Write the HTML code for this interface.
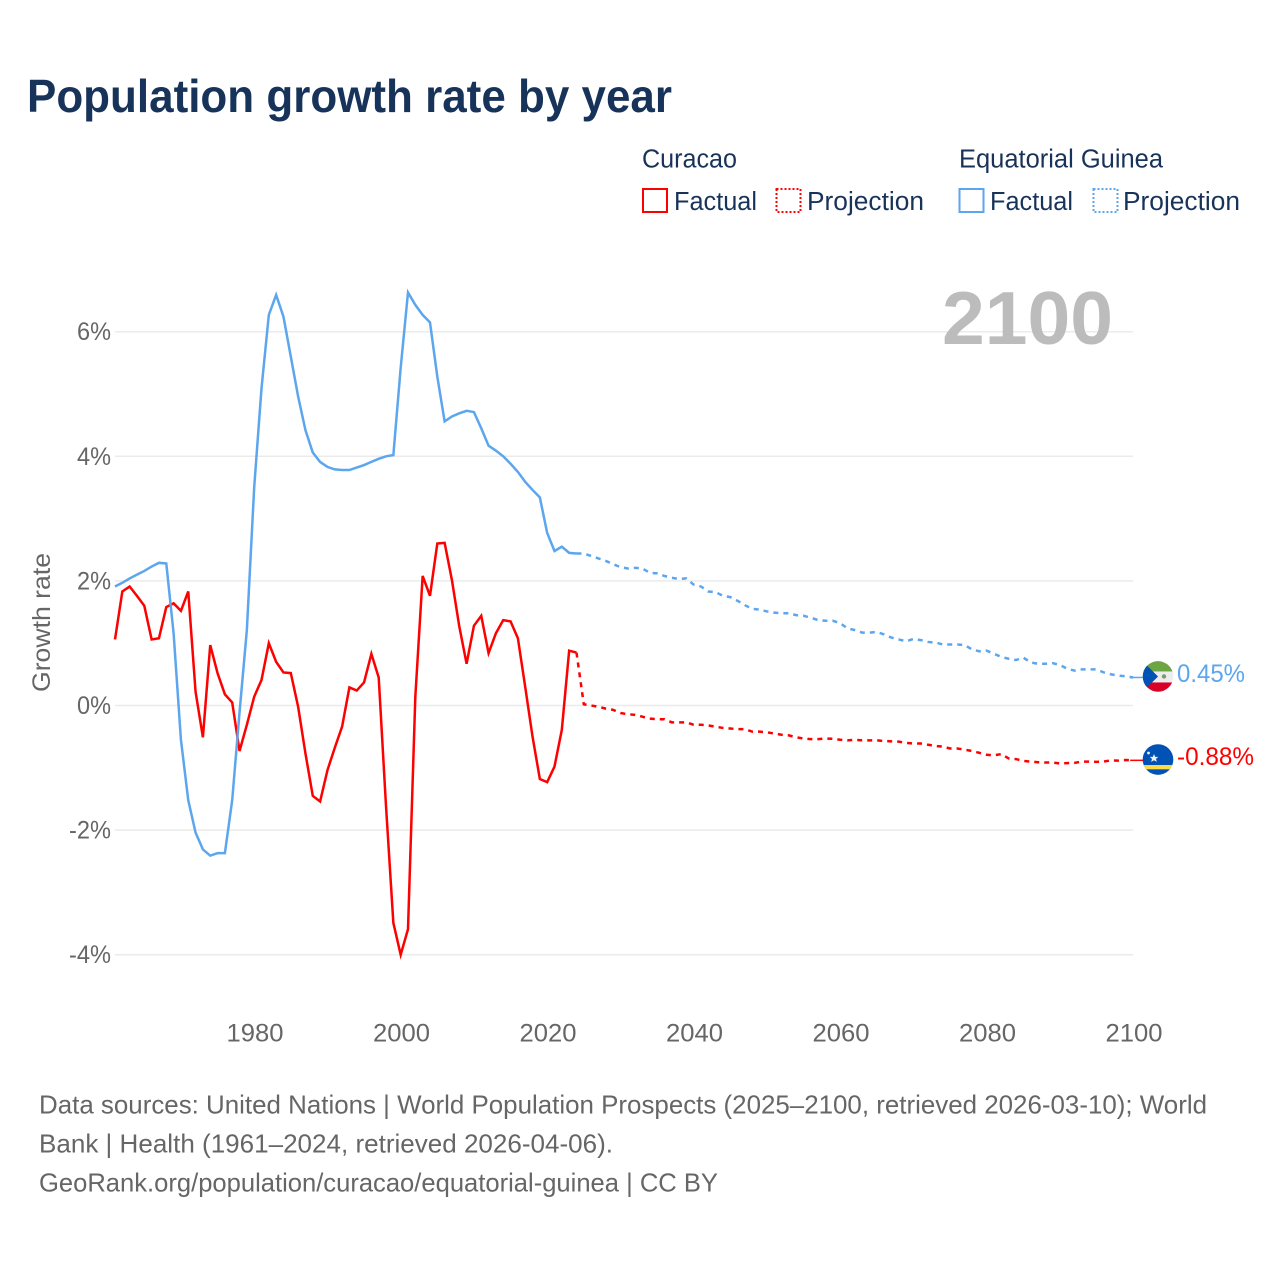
<!DOCTYPE html>
<html lang="en">
<head>
<meta charset="utf-8">
<title>Population growth rate by year</title>
<style>
html,body{margin:0;padding:0;background:#fff;}
svg{display:block;font-family:"Liberation Sans",sans-serif;}
</style>
</head>
<body>
<svg id="chart" xmlns="http://www.w3.org/2000/svg" width="1280" height="1280" viewBox="0 0 1280 1280">
  <defs>
    <clipPath id="clip-eq"><circle cx="0" cy="0" r="15.3"/></clipPath>
    <clipPath id="clip-cw"><circle cx="0" cy="0" r="15.3"/></clipPath>
  </defs>
  <rect width="1280" height="1280" fill="#fff"/>
  <text x="27" y="112" font-size="46.5" font-weight="700" fill="#18335a" textLength="645" lengthAdjust="spacingAndGlyphs">Population growth rate by year</text>

  <g font-size="25.5" fill="#18335a">
    <text x="642" y="167.5" textLength="95" lengthAdjust="spacingAndGlyphs">Curacao</text>
    <text x="959" y="167.5" textLength="204" lengthAdjust="spacingAndGlyphs">Equatorial Guinea</text>
    <rect x="643" y="189" width="24" height="23" fill="none" stroke="#ff0000" stroke-width="2"/>
    <text x="674" y="210" textLength="83" lengthAdjust="spacingAndGlyphs">Factual</text>
    <rect x="776.5" y="189" width="24" height="23" fill="none" stroke="#ff0000" stroke-width="2" stroke-dasharray="2 2"/>
    <text x="807" y="210" textLength="117" lengthAdjust="spacingAndGlyphs">Projection</text>
    <rect x="959.5" y="189" width="24" height="23" fill="none" stroke="#5ca6ee" stroke-width="2"/>
    <text x="990" y="210" textLength="83" lengthAdjust="spacingAndGlyphs">Factual</text>
    <rect x="1093.5" y="189" width="24" height="23" fill="none" stroke="#5ca6ee" stroke-width="2" stroke-dasharray="2 2"/>
    <text x="1123" y="210" textLength="117" lengthAdjust="spacingAndGlyphs">Projection</text>
  </g>

  <g id="grid"></g>
  <text x="942" y="344" font-size="75" font-weight="700" fill="#bcbcbc" textLength="171" lengthAdjust="spacingAndGlyphs">2100</text>
  <g id="yticks" font-size="25" fill="#666"></g>
  <g id="xticks" font-size="25" fill="#666"></g>
  <text transform="translate(50,692) rotate(-90)" font-size="25" fill="#666" textLength="139" lengthAdjust="spacingAndGlyphs">Growth rate</text>
  <g id="series"></g>

  <g id="flag-eq">
    <g clip-path="url(#clip-eq)">
      <rect x="-16" y="-16" width="32" height="32" fill="#ededed"/>
      <rect x="-16" y="-16" width="32" height="11" fill="#6da544"/>
      <rect x="-16" y="6" width="32" height="10" fill="#d80027"/>
      <polygon points="-16,-16 0,0 -16,16" fill="#0052b4"/>
      <circle cx="6" cy="0" r="2.2" fill="#7f9a6c"/>
    </g>
  </g>
  <g id="flag-cw">
    <g clip-path="url(#clip-cw)">
      <rect x="-16" y="-16" width="32" height="32" fill="#0052b4"/>
      <rect x="-16" y="5.5" width="32" height="4.3" fill="#ffda44"/>
      <polygon points="-4,-5.5 -2.8,-2.6 0.3,-2.6 -2,-0.7 -1.2,2.3 -4,0.7 -6.8,2.3 -6,-0.7 -8.3,-2.6 -5.2,-2.6" fill="#f0f0f0"/>
      <circle cx="-9.5" cy="-6.5" r="1.4" fill="#f0f0f0"/>
    </g>
  </g>
  <text id="label-eq" x="1177" y="682" font-size="25" fill="#5ca6ee" textLength="68" lengthAdjust="spacingAndGlyphs"></text>
  <text id="label-cw" x="1177" y="765" font-size="25" fill="#ff0000" textLength="77" lengthAdjust="spacingAndGlyphs"></text>

  <g font-size="26" fill="#666">
    <text x="39" y="1113.5" textLength="1168" lengthAdjust="spacingAndGlyphs">Data sources: United Nations | World Population Prospects (2025–2100, retrieved 2026-03-10); World</text>
    <text x="39" y="1152.5" textLength="574" lengthAdjust="spacingAndGlyphs">Bank | Health (1961–2024, retrieved 2026-04-06).</text>
    <text x="39" y="1191.5" textLength="679" lengthAdjust="spacingAndGlyphs">GeoRank.org/population/curacao/equatorial-guinea | CC BY</text>
  </g>
</svg>
<script>
const yTicks = [6, 4, 2, 0, -2, -4];
const xTicks = [1980, 2000, 2020, 2040, 2060, 2080, 2100];
const factualStartYear = 1961;
const projectionStartYear = 2024;

const curacaoFactual = [1.06,1.83,1.91,1.76,1.60,1.06,1.08,1.58,1.64,1.52,1.83,0.22,-0.51,0.97,0.52,0.18,0.05,-0.73,-0.31,0.14,0.41,1.00,0.70,0.53,0.52,-0.02,-0.77,-1.45,-1.54,-1.04,-0.68,-0.34,0.29,0.24,0.37,0.83,0.45,-1.62,-3.49,-4.00,-3.59,0.14,2.08,1.76,2.60,2.61,2.01,1.27,0.67,1.28,1.44,0.84,1.16,1.37,1.35,1.08,0.30,-0.50,-1.18,-1.23,-0.98,-0.39,0.88,0.85];
const curacaoProjection = [0.85,0.02,0.00,-0.02,-0.05,-0.07,-0.12,-0.14,-0.15,-0.18,-0.21,-0.22,-0.22,-0.27,-0.27,-0.27,-0.31,-0.31,-0.32,-0.34,-0.36,-0.37,-0.38,-0.38,-0.42,-0.42,-0.43,-0.45,-0.47,-0.48,-0.51,-0.53,-0.54,-0.54,-0.53,-0.535,-0.55,-0.56,-0.55,-0.56,-0.56,-0.56,-0.57,-0.575,-0.58,-0.60,-0.61,-0.61,-0.63,-0.65,-0.66,-0.69,-0.69,-0.71,-0.73,-0.76,-0.79,-0.80,-0.78,-0.85,-0.86,-0.89,-0.90,-0.91,-0.915,-0.915,-0.93,-0.925,-0.92,-0.90,-0.90,-0.905,-0.90,-0.88,-0.885,-0.875,-0.88];
const guineaFactual = [1.91,1.97,2.04,2.10,2.16,2.23,2.29,2.28,1.16,-0.55,-1.52,-2.04,-2.31,-2.41,-2.37,-2.37,-1.52,-0.11,1.21,3.50,5.09,6.27,6.59,6.24,5.60,4.96,4.42,4.06,3.91,3.83,3.79,3.78,3.78,3.82,3.86,3.91,3.96,4.00,4.02,5.42,6.63,6.43,6.27,6.15,5.28,4.56,4.64,4.69,4.73,4.71,4.45,4.17,4.09,4.00,3.88,3.75,3.59,3.46,3.34,2.77,2.48,2.55,2.45,2.44];
const guineaProjection = [2.44,2.44,2.40,2.36,2.32,2.27,2.22,2.20,2.21,2.20,2.13,2.12,2.08,2.05,2.03,2.04,1.94,1.91,1.83,1.82,1.76,1.74,1.68,1.61,1.55,1.54,1.51,1.49,1.48,1.48,1.45,1.44,1.41,1.37,1.36,1.36,1.32,1.24,1.21,1.17,1.17,1.18,1.14,1.09,1.06,1.03,1.07,1.05,1.02,1.01,0.98,0.98,0.98,0.97,0.90,0.87,0.88,0.83,0.78,0.75,0.73,0.77,0.69,0.67,0.67,0.68,0.65,0.59,0.56,0.58,0.58,0.58,0.53,0.50,0.48,0.47,0.45];

const NS = 'http://www.w3.org/2000/svg';
const RED = '#ff0000';
const BLUE = '#5ca6ee';
const xScale = function (year) { return 115 + (year - 1961) * 7.325; };
const yScale = function (value) { return 705.5 - value * 62.3; };
const formatPct = function (value) { return value + '%'; };

const grid = document.getElementById('grid');
const yTickGroup = document.getElementById('yticks');
const xTickGroup = document.getElementById('xticks');
const seriesGroup = document.getElementById('series');

yTicks.forEach(function (tick) {
  const line = document.createElementNS(NS, 'line');
  
  
  line.setAttribute('x1', 115);
  line.setAttribute('x2', 1133);
  line.setAttribute('y1', yScale(tick));
  line.setAttribute('y2', yScale(tick));
  line.setAttribute('stroke', '#ebebeb');
  line.setAttribute('stroke-width', '1.5');
  grid.appendChild(line);

  const label = document.createElementNS(NS, 'text');
  
  
  const labelWidth = tick < 0 ? 42 : 34;
  label.setAttribute('x', 111 - labelWidth);
  label.setAttribute('y', yScale(tick) + 8.5);
  label.setAttribute('textLength', labelWidth);
  label.setAttribute('lengthAdjust', 'spacingAndGlyphs');
  label.textContent = formatPct(tick);
  yTickGroup.appendChild(label);
});

xTicks.forEach(function (tick) {
  const label = document.createElementNS(NS, 'text');
  
  
  label.setAttribute('x', xScale(tick) - 27.7);
  label.setAttribute('y', 1041.5);
  label.setAttribute('textLength', '57');
  label.setAttribute('lengthAdjust', 'spacingAndGlyphs');
  label.textContent = String(tick);
  xTickGroup.appendChild(label);
});

function buildPath(values, startYear) {
  return values.map(function (value, i) {
    return (i === 0 ? 'M' : 'L') + xScale(startYear + i).toFixed(2) + ' ' + yScale(value).toFixed(2);
  }).join(' ');
}

function styleLine(path, color, dashed) {
  path.setAttribute('fill', 'none');
  path.setAttribute('stroke', color);
  path.setAttribute('stroke-width', '2.5');
  path.setAttribute('stroke-linejoin', 'miter');
  if (dashed) {
    path.setAttribute('stroke-dasharray', '5 5');
  }
}

const curacaoProjectionLine = document.createElementNS(NS, 'path');


curacaoProjectionLine.setAttribute('d', buildPath(curacaoProjection, projectionStartYear));
styleLine(curacaoProjectionLine, RED, true);
seriesGroup.appendChild(curacaoProjectionLine);

const curacaoFactualLine = document.createElementNS(NS, 'path');


curacaoFactualLine.setAttribute('d', buildPath(curacaoFactual, factualStartYear));
styleLine(curacaoFactualLine, RED, false);
seriesGroup.appendChild(curacaoFactualLine);

const guineaProjectionLine = document.createElementNS(NS, 'path');


guineaProjectionLine.setAttribute('d', buildPath(guineaProjection, projectionStartYear));
styleLine(guineaProjectionLine, BLUE, true);
seriesGroup.appendChild(guineaProjectionLine);

const guineaFactualLine = document.createElementNS(NS, 'path');


guineaFactualLine.setAttribute('d', buildPath(guineaFactual, factualStartYear));
styleLine(guineaFactualLine, BLUE, false);
seriesGroup.appendChild(guineaFactualLine);

const lastCuracao = curacaoProjection[curacaoProjection.length - 1];
const lastGuinea = guineaProjection[guineaProjection.length - 1];

const guineaConnector = document.createElementNS(NS, 'line');


guineaConnector.setAttribute('x1', xScale(2100) - 3);
guineaConnector.setAttribute('x2', 1143);
guineaConnector.setAttribute('y1', yScale(lastGuinea));
guineaConnector.setAttribute('y2', yScale(lastGuinea));
guineaConnector.setAttribute('stroke', BLUE);
guineaConnector.setAttribute('stroke-width', '1.5');
seriesGroup.appendChild(guineaConnector);

const curacaoConnector = document.createElementNS(NS, 'line');


curacaoConnector.setAttribute('x1', xScale(2100) - 3);
curacaoConnector.setAttribute('x2', 1143);
curacaoConnector.setAttribute('y1', yScale(lastCuracao));
curacaoConnector.setAttribute('y2', yScale(lastCuracao));
curacaoConnector.setAttribute('stroke', RED);
curacaoConnector.setAttribute('stroke-width', '1.5');
seriesGroup.appendChild(curacaoConnector);

document.getElementById('flag-eq').setAttribute('transform', 'translate(1158,' + (yScale(lastGuinea) - 1) + ')');
document.getElementById('flag-cw').setAttribute('transform', 'translate(1158,' + (yScale(lastCuracao) - 0.8) + ')');

const labelEq = document.getElementById('label-eq');
labelEq.textContent = lastGuinea.toFixed(2) + '%';
labelEq.setAttribute('y', yScale(lastGuinea) + 4.5);

const labelCw = document.getElementById('label-cw');
labelCw.textContent = lastCuracao.toFixed(2) + '%';
labelCw.setAttribute('y', yScale(lastCuracao) + 4.7);
</script>
</body>
</html>
